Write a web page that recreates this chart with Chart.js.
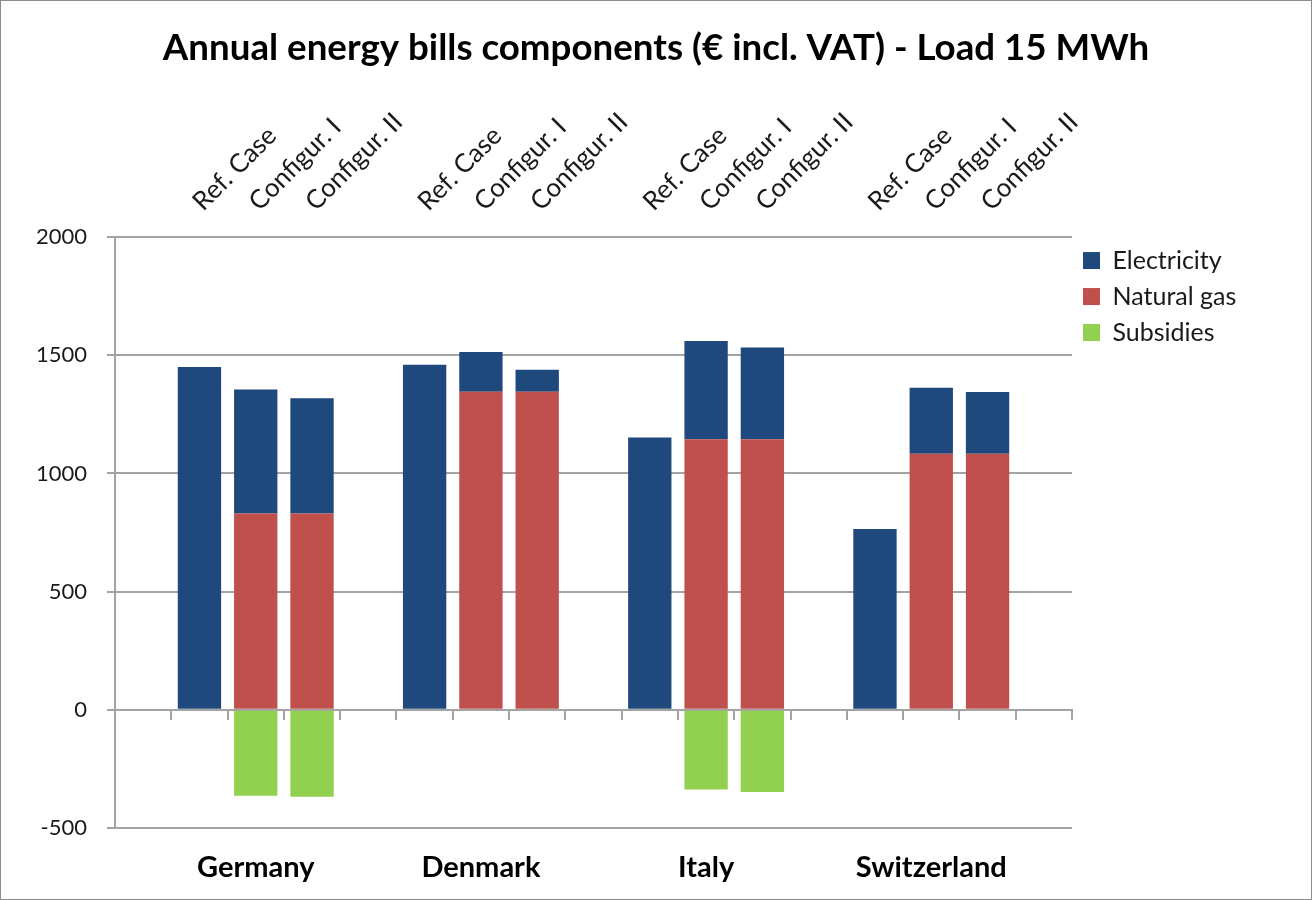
<!DOCTYPE html>
<html>
<head>
<meta charset="utf-8">
<script src="https://cdn.jsdelivr.net/npm/chart.js@4.4.1/dist/chart.umd.min.js"></script>
<style>
  html, body { margin: 0; padding: 0; background: #fff; }
  #wrap { position: absolute; left: 0; top: 0; width: 1310px; height: 898px; border: 1px solid #8c8c8c; }
  canvas { display: block; }
</style>
</head>
<body>
<div id="wrap"><canvas id="c" width="1310" height="898"></canvas></div>
<script>
// ---- data ----
const countries = ['Germany', 'Denmark', 'Italy', 'Switzerland'];
const cases = ['Ref. Case', 'Configur. I', 'Configur. II'];
// per country: Ref. Case, Configur. I, Configur. II
const electricity = [1450, 525, 488,  1460, 169, 94,  1152, 415, 388,  765, 279, 261];
const naturalGas  = [0, 830, 830,     0, 1345, 1345,  0, 1145, 1145,   0, 1083, 1083];
const subsidies   = [0, -364, -368,   0, 0, 0,        0, -337, -348,   0, 0, 0];
const yTicks = [-500, 0, 500, 1000, 1500, 2000];

// ---- build slot layout: blank, 3 cases, blank, 3 cases, ... blank ----
const caseLabels = [''];
const countryLabels = [''];
function slots(values) {
  const out = [null];
  countries.forEach((c, ci) => {
    cases.forEach((k, ki) => {
      const v = values[ci * cases.length + ki];
      out.push(v === 0 ? null : v);
    });
    out.push(null);
  });
  return out;
}
countries.forEach((c) => {
  cases.forEach((k, ki) => {
    caseLabels.push(k);
    countryLabels.push(ki === 1 ? c : '');
  });
  caseLabels.push('');
  countryLabels.push('');
});

const FONT = 'Lato, "Open Sans", sans-serif';
const GRID = '#a3a3a3';
const legendRank = {1: 0, 0: 1, 2: 2};

// give the right-hand legend a fixed width so the title stays centred on the canvas
const legendWidthPlugin = {
  id: 'legendWidth',
  beforeLayout(chart) {
    const lg = chart.legend;
    if (lg && !lg._patched) {
      const orig = lg.fit;
      lg.fit = function () { orig.call(this); this.width = 239; };
      lg._patched = true;
    }
  }
};

new Chart(document.getElementById('c'), {
  type: 'bar',
  data: {
    labels: caseLabels,
    datasets: [
      { label: 'Natural gas', data: slots(naturalGas), backgroundColor: '#C0504D' },
      { label: 'Electricity', data: slots(electricity), backgroundColor: '#1F497D' },
      { label: 'Subsidies', data: slots(subsidies), backgroundColor: '#92D050' }
    ]
  },
  plugins: [legendWidthPlugin],
  options: {
    responsive: false,
    animation: false,
    layout: { padding: 0 },
    datasets: { bar: { categoryPercentage: 1.0, barPercentage: 0.77, borderWidth: 0 } },
    plugins: {
      title: {
        display: true,
        text: 'Annual energy bills components (€ incl. VAT) - Load 15 MWh',
        color: '#000',
        font: { family: FONT, size: 36.7, weight: 'bold' },
        padding: { top: 25, bottom: 0 }
      },
      legend: {
        position: 'right',
        align: 'start',
        fullSize: false,
        labels: {
          color: '#1a1a1a',
          font: { family: FONT, size: 25 },
          boxWidth: 17,
          boxHeight: 17,
          padding: 11,
          sort: (a, b) => legendRank[a.datasetIndex] - legendRank[b.datasetIndex]
        }
      },
      tooltip: { enabled: false }
    },
    scales: {
      x: {
        position: 'top',
        stacked: true,
        offset: true,
        grid: { display: false, drawTicks: false },
        border: { display: false },
        ticks: {
          autoSkip: false,
          maxRotation: 45,
          minRotation: 45,
          padding: 20,
          labelOffset: 20,
          color: '#1a1a1a',
          font: { family: FONT, size: 26 }
        },
        afterFit: (s) => { s.height = 167; }
      },
      x2: {
        axis: 'x',
        type: 'category',
        position: 'bottom',
        labels: countryLabels,
        offset: true,
        grid: { display: false, drawTicks: false },
        border: { display: false },
        ticks: {
          autoSkip: false,
          maxRotation: 0,
          minRotation: 0,
          padding: 22,
          color: '#000',
          font: { family: FONT, size: 29, weight: 'bold' }
        },
        afterFit: (s) => { s.height = 71; }
      },
      x3: {
        axis: 'x',
        type: 'category',
        position: { y: 0 },
        labels: caseLabels,
        offset: true,
        grid: { display: true, drawOnChartArea: false, offset: true, color: GRID, lineWidth: 2, tickLength: 9 },
        border: { display: true, color: GRID, width: 2 },
        ticks: { display: false }
      },
      y: {
        stacked: true,
        min: yTicks[0],
        max: yTicks[yTicks.length - 1],
        afterBuildTicks: (s) => { s.ticks = yTicks.map(v => ({ value: v })); },
        grid: { color: GRID, lineWidth: 2, tickLength: 8 },
        border: { display: true, color: GRID, width: 2 },
        ticks: {
          padding: 20,
          color: '#1a1a1a',
          font: { family: FONT, size: 22 },
          callback: (v) => String(v)
        },
        afterFit: (s) => { s.width = 114; }
      }
    }
  }
});
</script>
</body>
</html>
